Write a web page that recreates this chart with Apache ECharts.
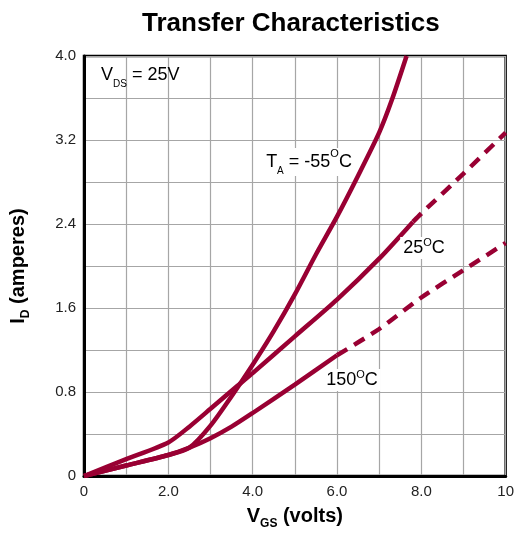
<!DOCTYPE html>
<html>
<head>
<meta charset="utf-8">
<script src="https://cdn.jsdelivr.net/npm/echarts@6/dist/echarts.min.js"></script>
<style>html,body{margin:0;padding:0;background:#fff}#c{width:517px;height:535px}</style>
</head>
<body>
<div id="c"></div>
<script>
// ---- data ----
const curveM55 = [[0,0],[1,0.1],[2,0.2],[2.5,0.27],[3,0.48],[3.5,0.76],[4,1.06],[4.5,1.38],[5,1.73],[5.5,2.11],[6,2.47],[6.5,2.86],[7,3.27],[7.3,3.58],[7.65,4.0]];
const curve25Solid = [[0,0],[1,0.16],[2,0.32],[2.5,0.47],[3,0.64],[3.64,0.86],[4,0.98],[5,1.33],[6,1.68],[7,2.07],[7.8,2.42]];
const curve25Dash = [[7.8,2.42],[8,2.5],[9,2.88],[10,3.27]];
const curve150Solid = [[0,0],[1,0.1],[2,0.2],[2.5,0.27],[3,0.36],[3.5,0.47],[4,0.6],[5,0.87],[6,1.15]];
const curve150Dash = [[6,1.15],[7,1.4],[8,1.7],[9,1.96],[10,2.22]];
const xLabels = {0:'0',2:'2.0',4:'4.0',6:'6.0',8:'8.0',10:'10'};
const yLabels = {0:'0',2:'0.8',4:'1.6',6:'2.4',8:'3.2',10:'4.0'};

const RED = '#990033';
const chart = echarts.init(document.getElementById('c'));
const base = {fontFamily:'Liberation Sans, Arial, sans-serif', color:'#000'};
function line(data, dashed){
  return {type:'line', data:data, symbol:'none', smooth:0.25, clip:true,
    lineStyle:{color:RED, width:4.5, type: dashed ? [12,8] : 'solid', cap:'butt'}, silent:true};
}
chart.setOption({
  animation:false,
  title:{text:'Transfer Characteristics', left:137, top:6,
    textStyle:{fontFamily:base.fontFamily, fontSize:26, fontWeight:'bold', color:'#000'}},
  grid:{left:82, right:10, top:56, bottom:53, show:true, borderColor:'#000', borderWidth:2.5, backgroundColor:'transparent'},
  xAxis:{type:'value', min:0, max:10, interval:1,
    axisLine:{lineStyle:{color:'#000', width:3}}, axisTick:{show:false},
    splitLine:{lineStyle:{color:'#a6a6a6', width:1.2}},
    axisLabel:{fontFamily:base.fontFamily, fontSize:15, color:'#222', margin:8,
      formatter:v => xLabels[Math.round(v)] !== undefined ? xLabels[Math.round(v)] : ''},
    name:'{b|V}{s|GS}{b| (volts)}', nameLocation:'middle', nameGap:26,
    nameTextStyle:{rich:{
      b:{fontFamily:base.fontFamily, fontSize:20, fontWeight:'bold', color:'#000', lineHeight:28},
      s:{fontFamily:base.fontFamily, fontSize:12, fontWeight:'bold', color:'#000', lineHeight:12, verticalAlign:'bottom'}}}
  },
  yAxis:{type:'value', min:0, max:4, interval:0.4,
    axisLine:{show:true, lineStyle:{color:'#000', width:3}}, axisTick:{show:false},
    splitLine:{lineStyle:{color:'#a6a6a6', width:1.2}},
    axisLabel:{fontFamily:base.fontFamily, fontSize:15, color:'#222', margin:8,
      formatter:v => { const k = Math.round(v/0.4); return yLabels[k] !== undefined ? yLabels[k] : ''; }},
    name:'{b|I}{s|D}{b| (amperes)}', nameLocation:'middle', nameGap:52, nameRotate:90,
    nameTextStyle:{rich:{
      b:{fontFamily:base.fontFamily, fontSize:20, fontWeight:'bold', color:'#000', lineHeight:28},
      s:{fontFamily:base.fontFamily, fontSize:12, fontWeight:'bold', color:'#000', lineHeight:12, verticalAlign:'bottom'}}}
  },
  series:[line(curveM55,false), line(curve25Solid,false), line(curve25Dash,true), line(curve150Solid,false), line(curve150Dash,true)],
  graphic:[
    {type:'text', x:101, y:75, z:100, style:{text:'{m|V}{s|DS}{m| = 25V}', align:'left', verticalAlign:'middle',
      rich:{m:{fontFamily:base.fontFamily, fontSize:18, color:'#000', lineHeight:28},
            s:{fontFamily:base.fontFamily, fontSize:10, color:'#000', lineHeight:10, verticalAlign:'bottom'}}}},
    {type:'text', x:309, y:162, z:100, style:{text:'{m|T}{s|A}{m| = -55}{p|O}{m|C}', align:'center', verticalAlign:'middle',
      backgroundColor:'#fff', padding:[0,3],
      rich:{m:{fontFamily:base.fontFamily, fontSize:18, color:'#000', lineHeight:28},
            s:{fontFamily:base.fontFamily, fontSize:10, color:'#000', lineHeight:10, verticalAlign:'bottom'},
            p:{fontFamily:base.fontFamily, fontSize:11, color:'#000', lineHeight:22, verticalAlign:'top'}}}},
    {type:'text', x:424, y:248, z:100, style:{text:'{m|25}{p|O}{m|C}', align:'center', verticalAlign:'middle',
      backgroundColor:'#fff', padding:[0,3],
      rich:{m:{fontFamily:base.fontFamily, fontSize:18, color:'#000', lineHeight:22},
            p:{fontFamily:base.fontFamily, fontSize:11, color:'#000', lineHeight:14, verticalAlign:'top'}}}},
    {type:'text', x:352, y:380, z:100, style:{text:'{m|150}{p|O}{m|C}', align:'center', verticalAlign:'middle',
      backgroundColor:'#fff', padding:[0,3],
      rich:{m:{fontFamily:base.fontFamily, fontSize:18, color:'#000', lineHeight:22},
            p:{fontFamily:base.fontFamily, fontSize:11, color:'#000', lineHeight:14, verticalAlign:'top'}}}}
  ]
});
</script>
</body>
</html>
